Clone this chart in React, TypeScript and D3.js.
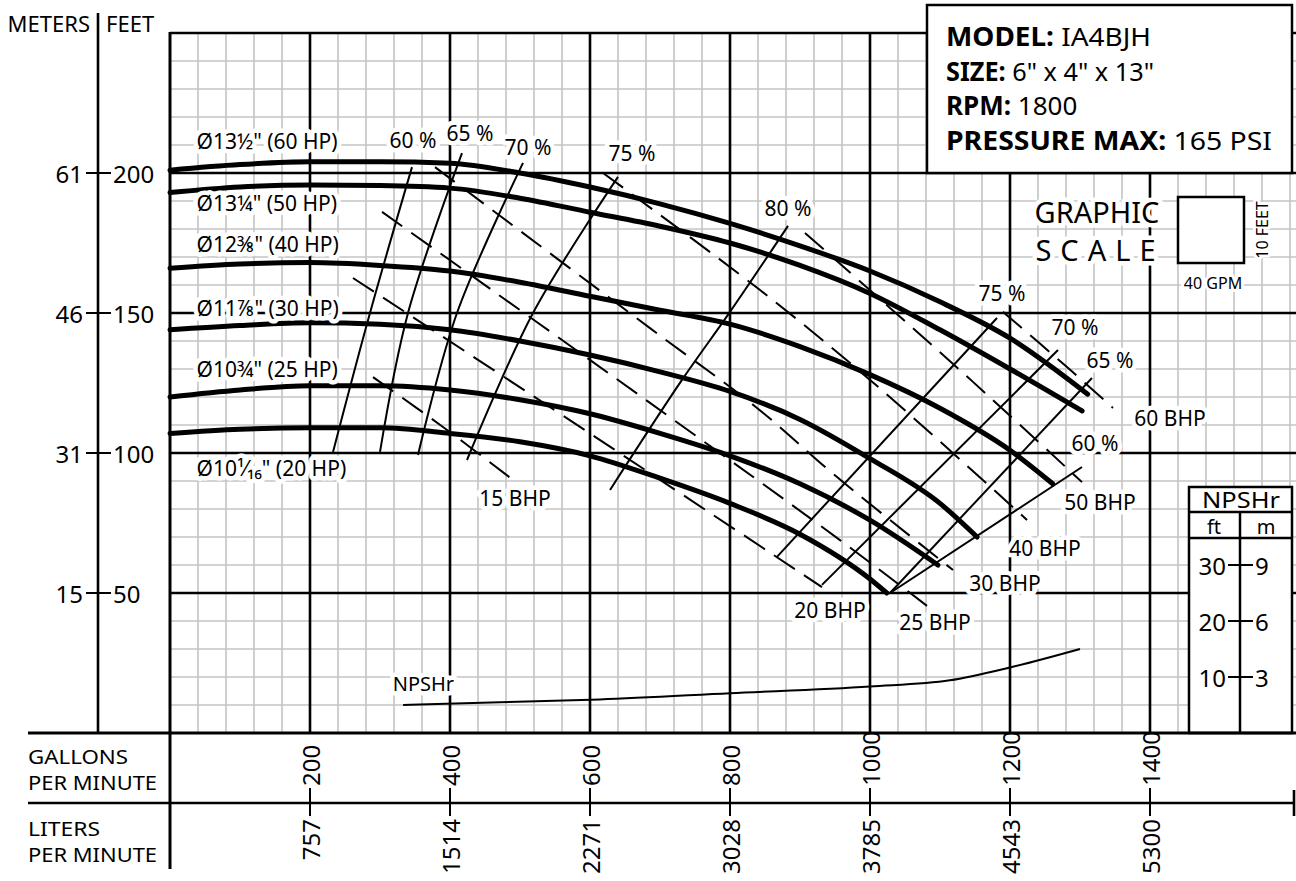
import React from "react";
import * as d3 from "d3";

type P = [number, number];

// Impeller head curves: [GPM, feet]
const curve60: P[] = [[0,201],[100,203],[200,204],[300,204],[400,203.5],[500,200],[600,195],[700,189],[800,182],[900,174],[1000,165],[1100,154],[1200,141],[1311,121]];
const curve50: P[] = [[0,193],[100,195],[200,195.7],[300,195.5],[400,194.6],[500,191],[600,186],[700,181],[800,175],[900,167],[1000,157],[1100,144],[1200,130],[1303,115]];
const curve40: P[] = [[0,166],[100,167.5],[200,168],[300,167],[400,165],[500,161],[600,156],[700,151],[800,146],[900,138],[1000,128],[1100,116],[1200,101],[1261,89]];
const curve30: P[] = [[0,144],[100,145.5],[200,146.5],[300,146],[400,144],[500,140],[600,135],[700,129],[800,122],[900,112],[1000,98],[1100,82],[1153,70]];
const curve25: P[] = [[0,120],[100,122.5],[200,124],[300,124],[400,122.5],[500,119],[600,114],[700,107],[800,99],[900,89],[1000,76],[1097,60]];
const curve20: P[] = [[0,107],[100,108.5],[200,109],[300,109],[400,107],[500,104],[600,99],[700,91],[800,82],[900,71],[1000,55],[1024,50]];
const impellerCurves = [curve60, curve50, curve40, curve30, curve25, curve20];
const impellerLabels = ["Ø13½\" (60 HP)", "Ø13¼\" (50 HP)", "Ø12⅜\" (40 HP)", "Ø11⅞\" (30 HP)", "Ø10¾\" (25 HP)", "Ø10¹⁄₁₆\" (20 HP)"];
const impellerLabelPos: P[] = [[38,211.4],[38,189.3],[38,174.6],[38,151.8],[38,130],[38,94.6]];

// Efficiency lines
const eff60L: P[] = [[345.7,202.1],[285.7,150],[232.9,100.4]];
const eff65L: P[] = [[417.1,207.1],[340,150],[300,100.4]];
const eff70L: P[] = [[504.3,203.6],[410,150],[354.3,99.3]];
const eff75L: P[] = [[640,198.6],[518.6,150],[424.3,97.5]];
const eff80: P[] = [[882.9,181.1],[800,150.4],[731.4,126.1],[628.6,86.8]];
const eff75R: P[] = [[1181.4,148.2],[867.1,62.9]];
const eff70R: P[] = [[1268.6,136.8],[931.4,52.9]];
const eff65R: P[] = [[1317.1,126.8],[1028.6,50]];
const eff60R: P[] = [[1302.9,95],[1028.6,50]];
const effLines = [eff60L, eff65L, eff70L, eff75L, eff80, eff75R, eff70R, eff65R, eff60R];
const effLabels = ["60 %","65 %","70 %","75 %","80 %","75 %","70 %","65 %","60 %"];
const effLabelPos: P[] = [[347.1,211.8],[428.6,214.3],[511.4,209.3],[660,207.1],[882.9,187.5],[1188.6,157.1],[1292.9,145],[1342.9,133.2],[1321.4,103.6]];

// Brake horsepower (dashed) lines
const bhp15: P[] = [[290,127.1],[390,109.3],[490,90.4]];
const bhp20: P[] = [[261.4,162.5],[538.6,117.1],[931.4,52.1]];
const bhp25: P[] = [[302.9,186.1],[685.7,117.9],[957.1,68.9],[1081.4,45.4]];
const bhp30: P[] = [[378.6,202.1],[685.7,144.6],[838.6,116.1],[952.9,91.4],[1118.6,58.2]];
const bhp40: P[] = [[618.6,200],[842.9,158.2],[1000,126.1],[1224.3,76.1]];
const bhp50: P[] = [[907.1,178.6],[1028.6,151.8],[1147.1,125.4],[1302.9,89.6]];
const bhp60: P[] = [[1190,150.4],[1281.4,130.7],[1347.1,116.1]];
const bhpLines = [bhp15, bhp20, bhp25, bhp30, bhp40, bhp50, bhp60];
const bhpLabels = ["15 BHP","20 BHP","25 BHP","30 BHP","40 BHP","50 BHP","60 BHP"];
const bhpLabelPos: P[] = [[492.9,83.9],[942.9,43.9],[1092.9,39.6],[1192.9,53.6],[1250,66.1],[1328.6,82.5],[1428.6,112.5]];

// NPSHr curve: [GPM, NPSH feet]
const npshr: P[] = [[333,5.0],[471,5.5],[614,6.0],[800,7.1],[1000,8.3],[1114,9.4],[1200,11.7],[1300,15.0]];

const gpmTicks = [200, 400, 600, 800, 1000, 1200, 1400];
const lpmLabels = ["757", "1514", "2271", "3028", "3785", "4543", "5300"];
const feetTicks = [200, 150, 100, 50];
const meterLabels = ["61", "46", "31", "15"];
const npshFt = [30, 20, 10];
const npshM = ["9", "6", "3"];

const FONT = "'Noto Sans', 'Open Sans', sans-serif";

export default function App() {
  const W = 1296, H = 881;
  const xS = d3.scaleLinear().domain([0, 1600]).range([170, 1290]);
  const yS = d3.scaleLinear().domain([0, 250]).range([733, 33]);
  const yN = d3.scaleLinear().domain([0, 30]).range([733, 565]);
  const smooth = d3.line<P>().x(d => xS(d[0])).y(d => yS(d[1])).curve(d3.curveMonotoneX);
  const straight = d3.line<P>().x(d => xS(d[0])).y(d => yS(d[1])).curve(d3.curveCatmullRom.alpha(0.5));
  const npshLine = d3.line<P>().x(d => xS(d[0])).y(d => yN(d[1])).curve(d3.curveMonotoneX);

  const minorX = d3.range(0, 1601, 40);
  const minorY = d3.range(0, 251, 10);
  const top = yS(250);
  const bottom = yS(0);

  const halo = { stroke: "white", strokeWidth: 9, paintOrder: "stroke" as const, strokeLinejoin: "round" as const };

  return (
    <svg width={W} height={H} style={{ position: "absolute", left: 0, top: 0, background: "white" }} fontFamily={FONT}>
      <rect x={0} y={0} width={W} height={H} fill="white" />
      {/* minor grid */}
      {minorX.map(g => (
        <line key={"mx" + g} x1={xS(g)} x2={xS(g)} y1={top} y2={bottom} stroke="#c4c4c4" strokeWidth={1.6} />
      ))}
      {minorY.map(f => (
        <line key={"my" + f} x1={170} x2={W} y1={yS(f)} y2={yS(f)} stroke="#c4c4c4" strokeWidth={1.6} />
      ))}
      {/* major grid */}
      {gpmTicks.map(g => (
        <line key={"Mx" + g} x1={xS(g)} x2={xS(g)} y1={top} y2={bottom} stroke="black" strokeWidth={2.6} />
      ))}
      {feetTicks.map(f => (
        <line key={"My" + f} x1={170} x2={W} y1={yS(f)} y2={yS(f)} stroke="black" strokeWidth={2.6} />
      ))}
      <line x1={170} x2={W} y1={top} y2={top} stroke="black" strokeWidth={2.6} />

      {/* efficiency lines */}
      {effLines.map((l, i) => (
        <path key={"e" + i} d={straight(l) || ""} fill="none" stroke="black" strokeWidth={2} />
      ))}
      {/* BHP dashed lines */}
      {bhpLines.map((l, i) => (
        <path key={"b" + i} d={straight(l) || ""} fill="none" stroke="black" strokeWidth={2} strokeDasharray="25 11" />
      ))}
      {/* impeller curves */}
      {impellerCurves.map((c, i) => (
        <path key={"c" + i} d={smooth(c) || ""} fill="none" stroke="black" strokeWidth={5} strokeLinecap="round" />
      ))}
      {/* NPSHr curve */}
      <path d={npshLine(npshr) || ""} fill="none" stroke="black" strokeWidth={2} />
      <text x={xS(362)} y={yN(8.8)} fontSize={20} textAnchor="middle" dominantBaseline="central" {...halo} fill="black">NPSHr</text>

      {/* impeller labels */}
      {impellerLabels.map((t, i) => (
        <text key={"il" + i} x={xS(impellerLabelPos[i][0])} y={yS(impellerLabelPos[i][1])} fontSize={21} dominantBaseline="central" {...halo} fill="black">{t}</text>
      ))}
      {/* efficiency labels */}
      {effLabels.map((t, i) => (
        <text key={"el" + i} x={xS(effLabelPos[i][0])} y={yS(effLabelPos[i][1])} fontSize={21} textAnchor="middle" dominantBaseline="central" {...halo} fill="black">{t}</text>
      ))}
      {/* BHP labels */}
      {bhpLabels.map((t, i) => (
        <text key={"bl" + i} x={xS(bhpLabelPos[i][0])} y={yS(bhpLabelPos[i][1])} fontSize={21} textAnchor="middle" dominantBaseline="central" {...halo} fill="black">{t}</text>
      ))}

      {/* Info box */}
      <rect x={927} y={5} width={365} height={168} fill="white" stroke="black" strokeWidth={2.5} />
      <g fontSize={26} fill="black">
        <text x={946} y={46} textLength={205} lengthAdjust="spacingAndGlyphs"><tspan fontWeight="bold">MODEL:</tspan> IA4BJH</text>
        <text x={946} y={81} textLength={208} lengthAdjust="spacingAndGlyphs"><tspan fontWeight="bold">SIZE:</tspan> 6" x 4" x 13"</text>
        <text x={946} y={115}><tspan fontWeight="bold">RPM:</tspan> 1800</text>
        <text x={946} y={150} textLength={326} lengthAdjust="spacingAndGlyphs"><tspan fontWeight="bold">PRESSURE MAX:</tspan> 165 PSI</text>
      </g>

      {/* Graphic scale */}
      <text x={1097} y={223} fontSize={29} textAnchor="middle" {...halo} fill="black">GRAPHIC</text>
      <text x={1100} y={261} fontSize={29} textAnchor="middle" letterSpacing={9} {...halo} fill="black">SCALE</text>
      <rect x={1178} y={197} width={66} height={66} fill="white" stroke="black" strokeWidth={2.5} />
      <text transform="translate(1262,230) rotate(-90)" fontSize={16} textAnchor="middle" dominantBaseline="central" {...halo} strokeWidth={6} fill="black">10 FEET</text>
      <text x={1213} y={283} fontSize={16} textAnchor="middle" dominantBaseline="central" {...halo} strokeWidth={6} fill="black">40 GPM</text>

      {/* NPSHr box */}
      <rect x={1189} y={487} width={103} height={246} fill="white" stroke="black" strokeWidth={2.5} />
      <line x1={1189} x2={1292} y1={512} y2={512} stroke="black" strokeWidth={2.5} />
      <line x1={1189} x2={1292} y1={538} y2={538} stroke="black" strokeWidth={2.5} />
      <line x1={1240} x2={1240} y1={512} y2={733} stroke="black" strokeWidth={2.5} />
      <text x={1241} y={508} fontSize={22} textAnchor="middle" textLength={78} lengthAdjust="spacingAndGlyphs">NPSHr</text>
      <text x={1214} y={534} fontSize={20} textAnchor="middle">ft</text>
      <text x={1266} y={534} fontSize={20} textAnchor="middle">m</text>
      {npshFt.map((f, i) => (
        <g key={"n" + f}>
          <line x1={1228} x2={1253} y1={yN(f)} y2={yN(f)} stroke="black" strokeWidth={2} />
          <text x={1226} y={yN(f)} fontSize={24} textAnchor="end" dominantBaseline="central">{f}</text>
          <text x={1255} y={yN(f)} fontSize={24} dominantBaseline="central">{npshM[i]}</text>
        </g>
      ))}

      {/* frame & axes */}
      <line x1={170} x2={170} y1={top - 1} y2={869} stroke="black" strokeWidth={3} />
      <line x1={28} x2={W} y1={bottom} y2={bottom} stroke="black" strokeWidth={3} />
      <line x1={28} x2={1294} y1={803} y2={803} stroke="black" strokeWidth={2.6} />
      <line x1={1294} x2={1294} y1={790} y2={816} stroke="black" strokeWidth={2.6} />
      <line x1={98} x2={98} y1={13} y2={bottom} stroke="black" strokeWidth={2.6} />
      <text x={90} y={32} fontSize={22} textAnchor="end">METERS</text>
      <text x={106} y={32} fontSize={22}>FEET</text>
      {feetTicks.map((f, i) => (
        <g key={"ft" + f}>
          <line x1={86} x2={111} y1={yS(f)} y2={yS(f)} stroke="black" strokeWidth={2} />
          <text x={83} y={yS(f)} fontSize={24} textAnchor="end" dominantBaseline="central">{meterLabels[i]}</text>
          <text x={113} y={yS(f)} fontSize={24} dominantBaseline="central">{f}</text>
        </g>
      ))}

      {/* bottom axes */}
      <text x={28} y={764} fontSize={19} textLength={100} lengthAdjust="spacingAndGlyphs">GALLONS</text>
      <text x={28} y={790} fontSize={19} textLength={129} lengthAdjust="spacingAndGlyphs">PER MINUTE</text>
      <text x={28} y={836} fontSize={19} textLength={72} lengthAdjust="spacingAndGlyphs">LITERS</text>
      <text x={28} y={862} fontSize={19} textLength={129} lengthAdjust="spacingAndGlyphs">PER MINUTE</text>
      {gpmTicks.map((g, i) => (
        <g key={"gx" + g}>
          <line x1={xS(g)} x2={xS(g)} y1={788} y2={816} stroke="black" strokeWidth={2} />
          <text transform={`translate(${xS(g)},786) rotate(-90)`} fontSize={24} dominantBaseline="central">{g}</text>
          <text transform={`translate(${xS(g)},819) rotate(-90)`} fontSize={24} textAnchor="end" dominantBaseline="central">{lpmLabels[i]}</text>
        </g>
      ))}
    </svg>
  );
}
